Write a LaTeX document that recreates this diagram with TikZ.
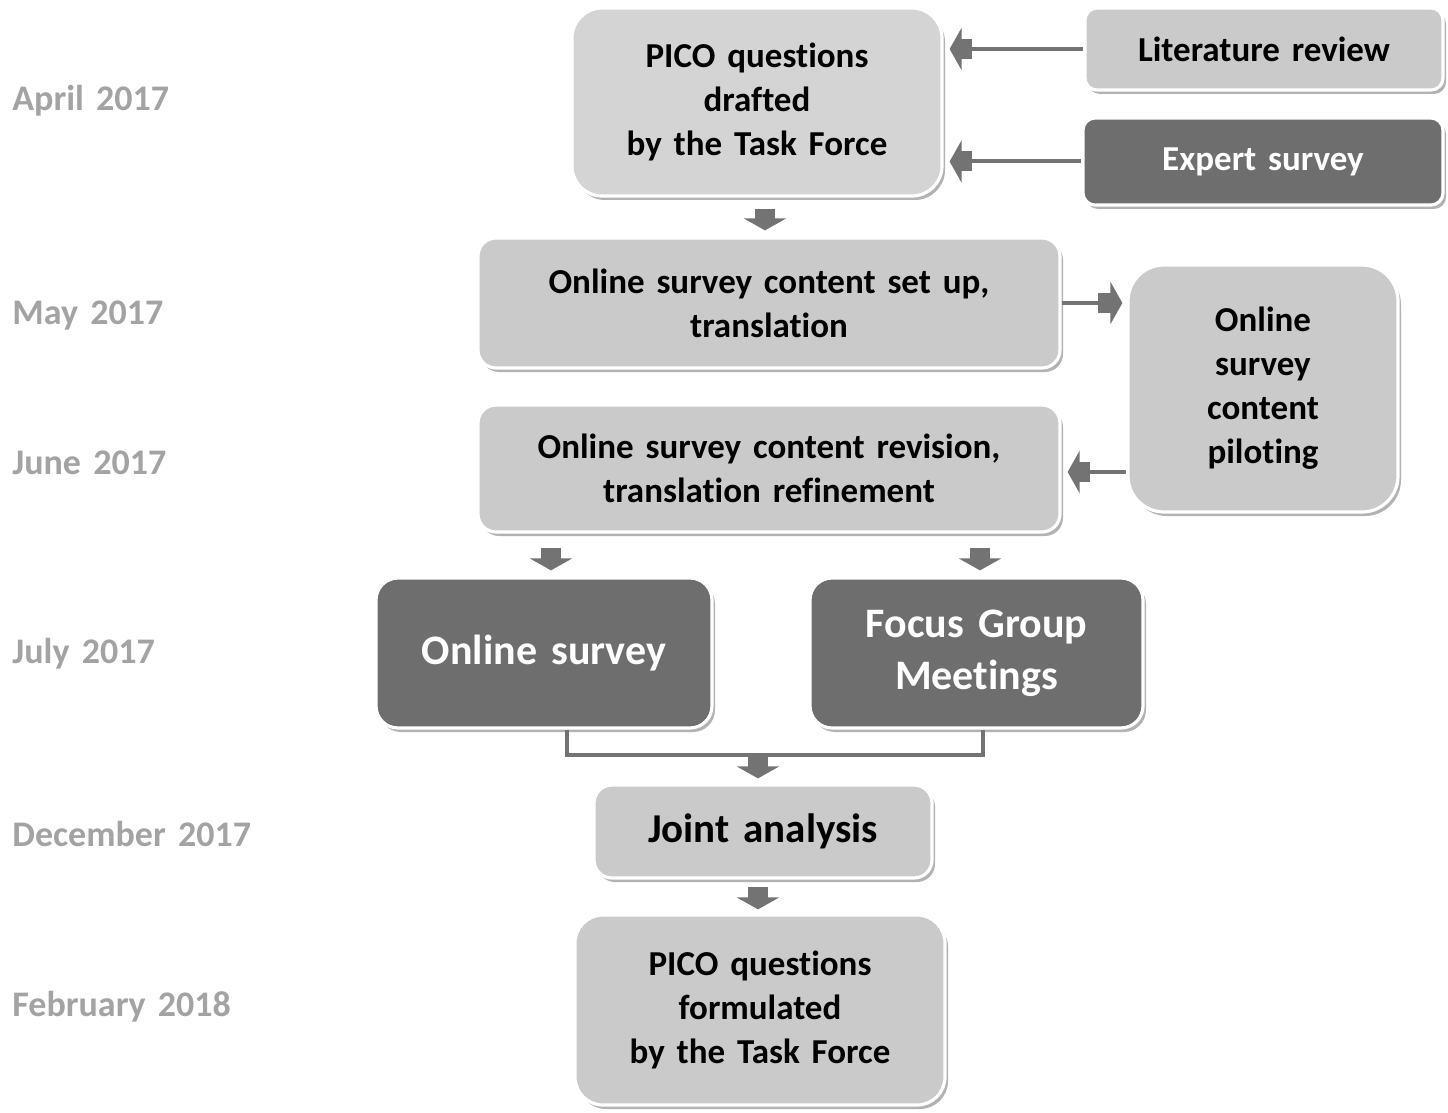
\documentclass[tikz,border=0pt]{standalone}
\usepackage{fontspec}
\setmainfont{Carlito}[Ligatures=NoCommon, WordSpace=1.5]
\usetikzlibrary{arrows.meta,shadows}
\definecolor{boxlight}{HTML}{CACACA}
\definecolor{boxpale}{HTML}{D4D4D4}
\definecolor{boxdark}{HTML}{6E6E6E}
\definecolor{arrowgray}{HTML}{737373}
\definecolor{labelgray}{HTML}{A3A3A3}
\begin{document}
\begin{tikzpicture}[x=0.5pt,y=-0.5pt,
  box/.style={rectangle, rounded corners=13pt, draw=white, line width=1.6pt,
    align=center, font=\fontsize{17.5}{22}\selectfont\bfseries, text=black,
    drop shadow={shadow xshift=1.5pt, shadow yshift=-2pt, opacity=0.5, fill=black!60},
    inner sep=0pt},
  lightbox/.style={box, fill=boxlight},
  palebox/.style={box, fill=boxpale},
  darkbox/.style={box, fill=boxdark, text=white},
  datelabel/.style={anchor=west, text=labelgray, font=\fontsize{18}{22}\selectfont\bfseries, inner sep=0pt},
  conn/.style={draw=arrowgray, line width=2pt},
  fatarr/.style={draw=arrowgray, line width=10pt, -{Triangle[width=21pt,length=6pt]}}
]
\useasboundingbox (0,0) rectangle (1448,1113);

% date labels
\node[datelabel] (d1) at (12,101) {April 2017};
\node[datelabel] (d2) at (12,316) {May 2017};
\node[datelabel] (d3) at (12,463) {June 2017};
\node[datelabel] (d4) at (12,654) {July 2017};
\node[datelabel] (d5) at (12,834) {December 2017};
\node[datelabel] (d6) at (12,1007) {February 2018};

% boxes
\node[palebox, rounded corners=15pt, minimum width=185pt, minimum height=94pt] (pico1) at (757,102)
  {PICO questions\\drafted\\by the Task Force};
\node[lightbox, rounded corners=6pt, minimum width=179pt, minimum height=41pt] (lit) at (1264,49)
  {Literature review};
\node[darkbox, rounded corners=6pt, minimum width=180pt, minimum height=43.5pt] (expert) at (1263,161.5)
  {Expert survey};
\node[lightbox, rounded corners=9pt, minimum width=291pt, minimum height=65pt] (setup) at (769,303)
  {Online survey content set up,\\translation};
\node[lightbox, rounded corners=18pt, minimum width=135pt, minimum height=123.5pt] (pilot) at (1263,388.5)
  {Online\\survey\\content\\piloting};
\node[lightbox, rounded corners=9pt, minimum width=291pt, minimum height=63.5pt] (revision) at (769,468.5)
  {Online survey content revision,\\translation refinement};
\node[darkbox, rounded corners=11pt, minimum width=168pt, minimum height=75pt,
  font=\fontsize{21}{26}\selectfont\bfseries] (online) at (544,653)
  {Online survey};
\node[darkbox, rounded corners=11pt, minimum width=166.5pt, minimum height=75pt,
  font=\fontsize{21}{26}\selectfont\bfseries] (focus) at (976.5,653)
  {Focus Group\\Meetings};
\node[lightbox, rounded corners=9pt, minimum width=169pt, minimum height=46.5pt,
  font=\fontsize{20.5}{26}\selectfont\bfseries] (joint) at (763,831.5)
  {Joint analysis};
\node[lightbox, rounded corners=14pt, minimum width=185pt, minimum height=95pt] (pico2) at (760,1010)
  {PICO questions\\formulated\\by the Task Force};

% horizontal connectors into PICO drafted
\draw[conn] (lit.west) -- ([xshift=10pt]pico1.east |- lit.west);
\draw[fatarr] ([xshift=14pt]pico1.east |- lit.west) -- ([xshift=3pt]pico1.east |- lit.west);
\draw[conn] (expert.west) -- ([xshift=10pt]pico1.east |- expert.west);
\draw[fatarr] ([xshift=14pt]pico1.east |- expert.west) -- ([xshift=3pt]pico1.east |- expert.west);

% PICO drafted -> setup
\coordinate (a1) at (765,0);
\draw[fatarr] ([yshift=-5.5pt]a1 |- pico1.south) -- ([yshift=3pt]a1 |- setup.north);

% setup -> piloting
\draw[conn] (setup.east) -- ([xshift=-10pt]pilot.west |- setup.east);
\draw[fatarr] ([xshift=-14pt]pilot.west |- setup.east) -- ([xshift=-2pt]pilot.west |- setup.east);

% piloting -> revision
\coordinate (p2) at (0,472);
\draw[conn] (pilot.west |- p2) -- ([xshift=10pt]revision.east |- p2);
\draw[fatarr] ([xshift=14pt]revision.east |- p2) -- ([xshift=3pt]revision.east |- p2);

% revision -> online / focus
\coordinate (a2) at (551,0);
\coordinate (a3) at (980,0);
\draw[fatarr] ([yshift=-7pt]a2 |- revision.south) -- ([yshift=3pt]a2 |- online.north);
\draw[fatarr] ([yshift=-7pt]a3 |- revision.south) -- ([yshift=3pt]a3 |- focus.north);

% merge bracket
\coordinate (m1) at (567,755);
\coordinate (m2) at (983,755);
\coordinate (m3) at (758,755);
\draw[conn] (m1 |- online.south) -- (m1) -- (m2) -- (m2 |- focus.south);
\draw[fatarr] ([yshift=1pt]m3) -- ([yshift=2.5pt]m3 |- joint.north);

% joint -> pico formulated
\coordinate (a4) at (758,0);
\draw[fatarr] ([yshift=-3.5pt]a4 |- joint.south) -- ([yshift=2pt]a4 |- pico2.north);
\end{tikzpicture}
\end{document}
